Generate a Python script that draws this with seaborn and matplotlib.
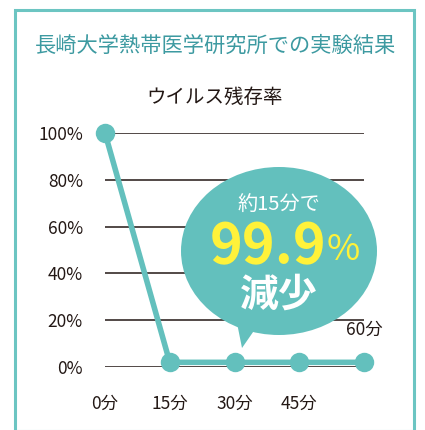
import matplotlib
matplotlib.use("Agg")
import matplotlib.pyplot as plt
from matplotlib.patches import Ellipse, Polygon, Rectangle
import seaborn as sns
import pandas as pd

# data
minutes = [0, 15, 30, 45, 60]
survival = [100, 2, 2, 2, 2]
y_ticks = [0, 20, 40, 60, 80, 100]
y_labels = ["0%", "20%", "40%", "60%", "80%", "100%"]
x_labels = ["0分", "15分", "30分", "45分"]

teal = "#63c0bd"
dark = "#231815"

sns.set_theme(style="white")
plt.rcParams['font.family'] = ['Noto Sans CJK JP', 'DejaVu Sans']

W, H = 425, 430
fig = plt.figure(figsize=(W / 100, H / 100), dpi=100)
fig.patch.set_facecolor("white")

def px(x, y):
    return (x / W, 1 - y / H)

# frame
fig.patches.append(Rectangle(px(15, 431), 399 / W, 421 / H, transform=fig.transFigure,
                             fill=False, edgecolor="#6cc5c2", lw=2.2))

fig.text(*px(216, 46), "長崎大学熱帯医学研究所での実験結果", ha="center", va="center",
         fontsize=15.3, color="#3d9aa1")
fig.text(*px(215, 97), "ウイルス残存率", ha="center", va="center",
         fontsize=14, color=dark)

ax = fig.add_axes([105 / W, 1 - 367 / H, 259 / W, 234 / H])
df = pd.DataFrame({"min": minutes, "val": survival})

for t in y_ticks:
    ax.axhline(t, color=dark, lw=1.1, zorder=1)

sns.lineplot(data=df, x="min", y="val", ax=ax, color=teal, lw=4, marker="o",
             markersize=14, markeredgewidth=0, clip_on=False, zorder=3)

ax.set_xlim(0, 60)
ax.set_ylim(0, 100)
ax.set_xticks(minutes[:4])
ax.set_xticklabels(x_labels, fontsize=12.5, color=dark)
ax.set_yticks(y_ticks)
ax.set_yticklabels(y_labels, fontsize=12.5, color=dark)
ax.tick_params(axis="both", length=0)
ax.tick_params(axis="y", pad=16)
ax.tick_params(axis="x", pad=20)
ax.set_xlabel("")
ax.set_ylabel("")
for s in ax.spines.values():
    s.set_visible(False)
ax.patch.set_alpha(0)

# the last x label sits above the axis
ax.text(60, 16, "60分", ha="center", va="center", fontsize=12.5, color=dark)

# speech bubble
tail = Polygon([px(236, 318), px(260, 322), px(242, 348)], closed=True,
               transform=fig.transFigure, facecolor=teal, edgecolor="none", zorder=4)
bubble = Ellipse(px(279, 251), 196 / W, 168 / H, transform=fig.transFigure,
                 facecolor=teal, edgecolor="none", zorder=4)
fig.patches.extend([tail, bubble])

fig.text(*px(279, 205), "約15分で", ha="center", va="center", fontsize=14.5,
         color="white", zorder=5)
fig.text(*px(326, 247), "99.9", ha="right", va="center", fontsize=40,
         fontweight="bold", color="#fff23a", zorder=5)
fig.text(*px(327, 250), "%", ha="left", va="center", fontsize=26,
         color="#fff23a", zorder=5)
fig.text(*px(279, 295), "減少", ha="center", va="center", fontsize=28,
         fontweight="bold", color="white", zorder=5)

fig.savefig("out.png", dpi=100, facecolor="white")
